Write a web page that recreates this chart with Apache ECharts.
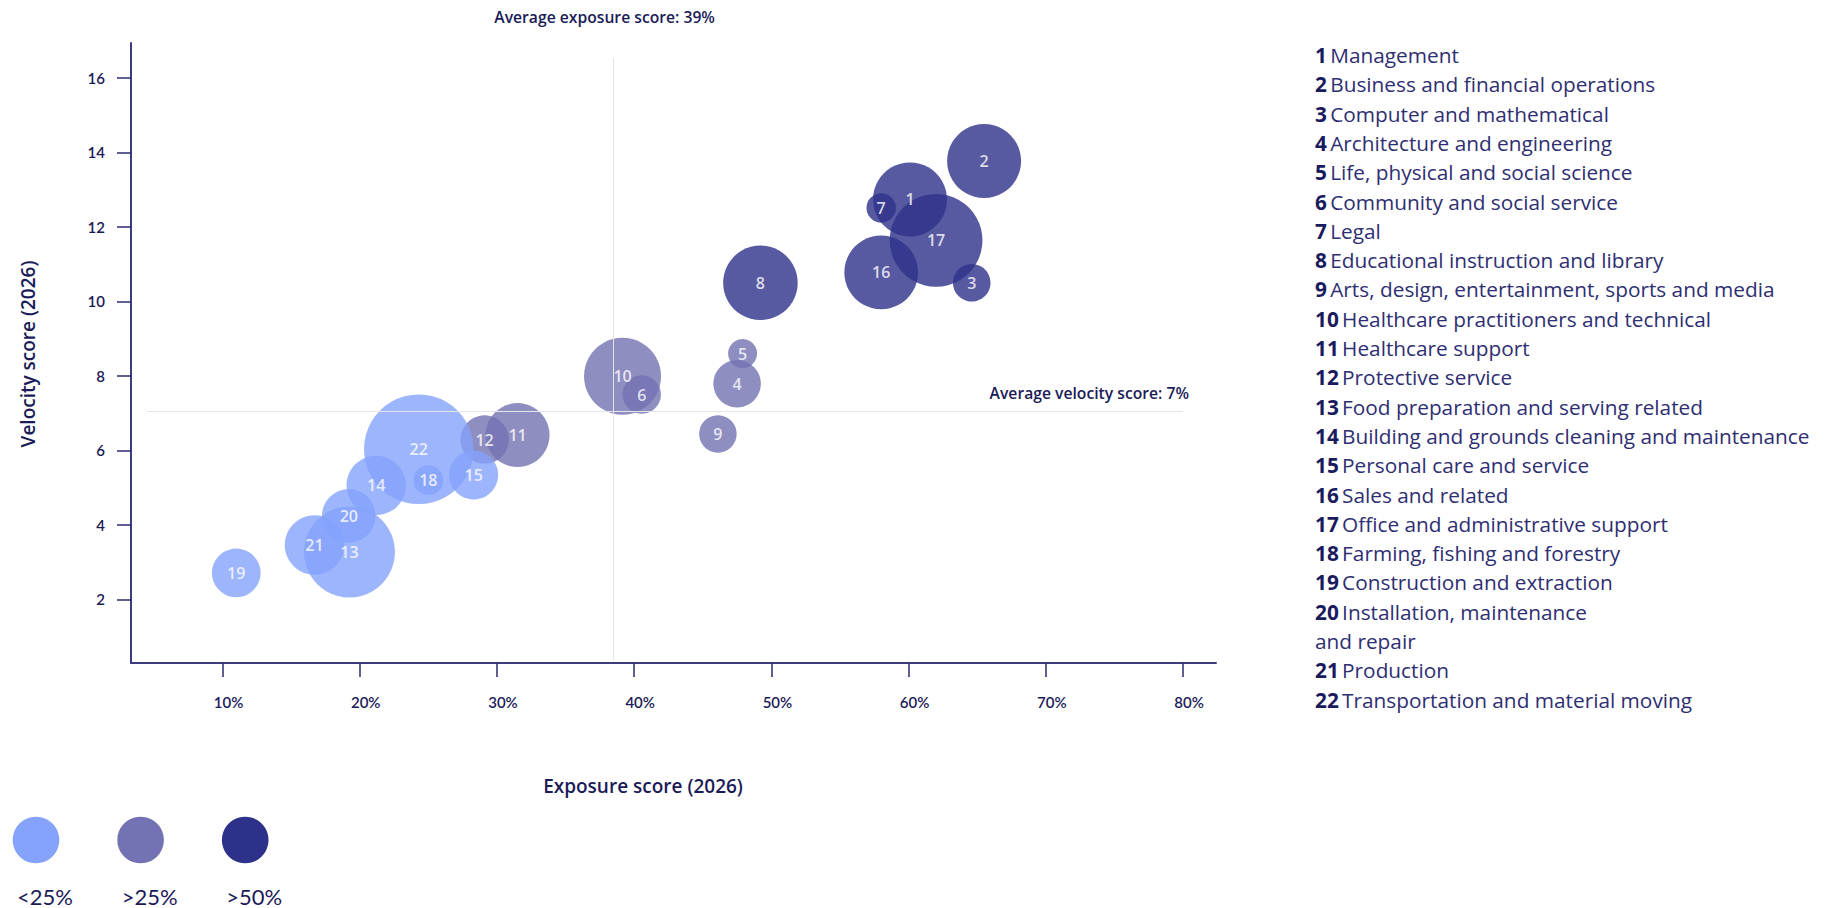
<!DOCTYPE html>
<html>
<head>
<meta charset="utf-8">
<script src="https://cdn.jsdelivr.net/npm/echarts@6/dist/echarts.min.js"></script>
<style>
html,body{margin:0;padding:0;background:#fff;}
#chart{width:1841px;height:908px;}
</style>
</head>
<body>
<div id="chart"></div>
<script>
// ---- data ----
const ids = [1,2,3,4,5,6,7,8,9,10,11,12,13,14,15,16,17,18,19,20,21,22];
const names = [
  'Management',
  'Business and financial operations',
  'Computer and mathematical',
  'Architecture and engineering',
  'Life, physical and social science',
  'Community and social service',
  'Legal',
  'Educational instruction and library',
  'Arts, design, entertainment, sports and media',
  'Healthcare practitioners and technical',
  'Healthcare support',
  'Protective service',
  'Food preparation and serving related',
  'Building and grounds cleaning and maintenance',
  'Personal care and service',
  'Sales and related',
  'Office and administrative support',
  'Farming, fishing and forestry',
  'Construction and extraction',
  'Installation, maintenance\nand repair',
  'Production',
  'Transportation and material moving'
];
const exposure = [60.1, 65.5, 64.6, 47.5, 47.9, 40.55, 58.0, 49.2, 46.1, 39.15, 31.5, 29.1, 19.25, 21.2, 28.3, 58.0, 62.0, 25.0, 11.0, 19.2, 16.7, 24.3];
const velocity = [12.74, 13.77, 10.5, 7.79, 8.6, 7.5, 12.51, 10.5, 6.44, 7.99, 6.41, 6.29, 3.27, 5.06, 5.34, 10.78, 11.64, 5.2, 2.71, 4.24, 3.46, 6.03];
const bubbleWeight = [8.76, 8.76, 2.25, 3.6, 1.35, 2.36, 1.39, 8.9, 2.25, 9.49, 6.55, 3.76, 13.25, 5.65, 3.84, 8.69, 13.78, 1.43, 3.79, 4.6, 5.65, 19.2];
const group = ['>50%','>50%','>50%','>25%','>25%','>25%','>50%','>50%','>25%','>25%','>25%','>25%','<25%','<25%','<25%','>50%','>50%','<25%','<25%','<25%','<25%','<25%'];
const groupLabels = ['<25%', '>25%', '>50%'];
const xTicks = [10, 20, 30, 40, 50, 60, 70, 80];
const yTicks = [2, 4, 6, 8, 10, 12, 14, 16];
const avgExposure = 38.45;   // drawn position of "Average exposure score: 39%"
const avgVelocity = 7.05;    // drawn position of "Average velocity score: 7%"

// ---- styles ----
const groupColors = {'<25%': '#85a3fb', '>25%': '#7372b2', '>50%': '#2e3189'};
const navy = '#1b1b58';
const FONT = 'Lato';
const FONT2 = 'Open Sans';
const sizeScale = 25;

// draw order: 6 is drawn after 10
const order = [0,1,2,3,4,6,7,8,9,5,10,11,12,13,14,15,16,17,18,19,20,21];
const bubbles = order.map(i => ({
  value: [exposure[i], velocity[i], bubbleWeight[i]],
  name: String(ids[i]),
  itemStyle: {color: groupColors[group[i]], opacity: 0.8}
}));

const chart = echarts.init(document.getElementById('chart'), null, {renderer: 'svg'});

const graphics = [];
// annotation texts
graphics.push({type:'text', x: 604.6, y: 17, style:{text:'Average exposure score: 39%', font:`600 15.7px ${FONT2}`, fill: navy, align:'center', verticalAlign:'middle'}});
graphics.push({type:'text', x: 1189, y: 393, style:{text:'Average velocity score: 7%', font:`600 15.7px ${FONT2}`, fill: navy, align:'right', verticalAlign:'middle'}});
// axis names
graphics.push({type:'text', x: 28, y: 354, rotation: Math.PI/2, style:{text:'Velocity score (2026)', font:`600 19px ${FONT2}`, fill: navy, align:'center', verticalAlign:'middle'}});
graphics.push({type:'text', x: 643, y: 786, style:{text:'Exposure score (2026)', font:`600 19px ${FONT2}`, fill: navy, align:'center', verticalAlign:'middle'}});
// group legend
groupLabels.forEach((g, k) => {
  const cx = 36 + k * 104.6;
  graphics.push({type:'circle', shape:{cx: cx, cy: 840, r: 23.3}, style:{fill: groupColors[g]}});
  graphics.push({type:'text', x: cx + 9, y: 896, style:{text: g, font:`400 22px ${FONT}`, fill: navy, align:'center', verticalAlign:'middle'}});
});
// occupation list
let line = 0;
ids.forEach((id, i) => {
  const parts = names[i].split('\n');
  parts.forEach((p, j) => {
    graphics.push({type:'text', x: 1315, y: 55 + line * 29.3, style:{
      text: (j === 0 ? '{b|' + id + '} ' : '') + '{n|' + p + '}',
      verticalAlign:'middle',
      fill: '#2e2e72',
      rich: {
        b: {fontSize: 20.8, fontWeight: 700, fontFamily: FONT2, fill:'#1a1a5e'},
        n: {fontSize: 20.8, fontWeight: 400, fontFamily: FONT2, fill:'#2e2e72'}
      }
    }});
    line++;
  });
});

const option = {
  animation: false,
  textStyle: {fontFamily: FONT},
  grid: {left: 131, right: 625, top: 43, bottom: 245, containLabel: false},
  xAxis: {
    type: 'value', min: 3.33, max: 82.4,
    axisLine: {show: true, lineStyle: {color: '#3c3c7c', width: 2}},
    axisTick: {show: true, customValues: xTicks, length: 14, lineStyle: {color: '#2a2a6e', width: 1.5}},
    axisLabel: {customValues: xTicks, formatter: v => v + '%', color: navy, fontSize: 15, fontWeight: 600, margin: 31, padding: [0,0,0,12]},
    splitLine: {show: false}
  },
  yAxis: {
    type: 'value', min: 0.29, max: 16.94,
    axisLine: {show: true, lineStyle: {color: '#3c3c7c', width: 2}},
    axisTick: {show: true, customValues: yTicks, length: 14, lineStyle: {color: '#2a2a6e', width: 1.5}},
    axisLabel: {customValues: yTicks, color: navy, fontSize: 15, fontWeight: 600, margin: 26},
    splitLine: {show: false}
  },
  series: [
    {
      type: 'scatter', z: 1, data: [], silent: true,
      markLine: {
        silent: true, symbol: 'none', animation: false,
        lineStyle: {color: '#e6e6ea', width: 1, type: 'solid'},
        label: {show: false},
        emphasis: {disabled: true},
        data: [
          [{coord: [avgExposure, 0.36]}, {coord: [avgExposure, 16.53]}],
          [{coord: [4.47, avgVelocity]}, {coord: [80, avgVelocity]}]
        ]
      }
    },
    {
      type: 'scatter', z: 2,
      data: bubbles,
      symbolSize: v => sizeScale * Math.sqrt(v[2]),
      label: {show: true, position: 'inside', formatter: p => p.name, color: '#fff', fontSize: 16, fontWeight: 600, fontFamily: FONT2},
      emphasis: {disabled: true}
    }
  ],
  graphic: graphics
};
chart.setOption(option);
</script>
</body>
</html>
